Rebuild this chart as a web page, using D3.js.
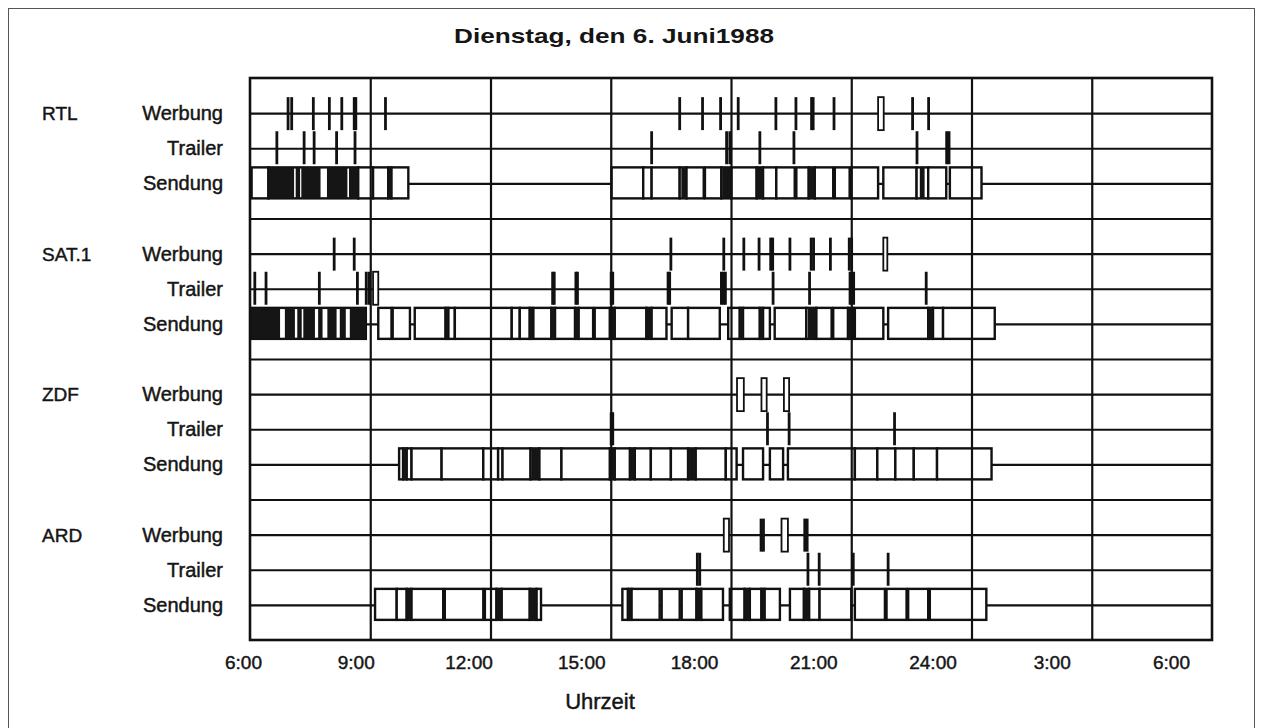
<!DOCTYPE html>
<html>
<head>
<meta charset="utf-8">
<script src="https://cdn.jsdelivr.net/npm/d3@7/dist/d3.min.js"></script>
<style>
    body { margin: 0; background: #fff; }
    text { font-family: Arial, "Liberation Sans", Helvetica, sans-serif; fill: #151515; }
    .lbl { stroke: #151515; stroke-width: 0.45px; }
</style>
</head>
<body>
<script>
    const sender = ["RTL", "SAT.1", "ZDF", "ARD"];
    const zeilen = ["Werbung", "Trailer", "Sendung"];
    const stunden = [6, 9, 12, 15, 18, 21, 24, 27, 30];
    const stundenLabels = ["6:00", "9:00", "12:00", "15:00", "18:00", "21:00", "24:00", "3:00", "6:00"];

    // Werbung / Trailer: eine Zahl = einzelner Spot, [von, bis] = Block (Stunden ab 0:00)
    const rtlWerbung = [6.95, 7.04, 7.58, 7.98, 8.29, 8.60, 8.64, 9.38, 16.72, 17.29, 17.74, 18.18, 19.12, 19.62, 20.01, 20.05, 20.57, [21.67, 21.81], 22.53, 22.93];
    const rtlTrailer = [6.67, 7.35, 7.60, 8.16, 8.62, 16.02, 17.89, 17.97, 18.72, 19.57, 22.64, 23.38, 23.44];
    const rtlSendung = [[6.04, 6.46], [6.46, 8.70], [8.70, 9.07], [9.07, 9.45], [9.45, 9.53], [9.53, 9.95],
        [15.02, 15.81], [15.81, 16.02], [16.02, 16.72], [16.72, 16.89], [16.89, 17.32], [17.35, 17.76], [17.76, 18.01],
        [18.01, 18.64], [18.64, 18.80], [18.80, 19.13], [19.13, 19.59], [19.63, 19.94], [19.94, 20.09], [20.09, 20.55],
        [20.59, 20.96], [21.00, 21.67], [21.80, 22.63], [22.63, 22.92], [22.92, 23.37], [23.46, 24.25]];
    const rtlDicht = [[6.46, 7.10], [7.14, 7.25], [7.28, 7.76], [7.92, 8.43], [8.47, 8.70], [9.45, 9.53], [16.76, 16.89],
        [17.78, 18.01], [18.64, 18.80], [19.96, 20.09], [22.71, 22.83]];

    const sat1Werbung = [8.10, 8.60, 16.50, 17.82, 18.32, 18.70, 18.99, 19.04, 19.47, 20.00, 20.06, 20.48, 20.95, 21.01, [21.80, 21.90]];
    const sat1Trailer = [6.12, 6.40, 7.73, 8.68, 8.90, 8.97, [9.07, 9.20], 13.55, 13.59, 14.13, 14.17, 15.01, 15.05, 16.43, 16.47,
        17.76, 17.81, 17.86, 19.05, 19.96, 20.97, 21.01, 21.06, 22.87];
    const sat1Sendung = [[6.04, 8.89], [9.20, 9.53], [9.56, 9.99], [10.11, 10.88], [10.88, 10.95], [10.95, 11.11], [11.11, 12.53],
        [12.53, 12.73], [12.73, 12.98], [12.98, 13.05], [13.07, 13.52], [13.52, 13.61], [13.61, 14.11], [14.11, 14.20],
        [14.20, 14.56], [14.60, 14.98], [14.98, 15.10], [15.10, 15.89], [15.89, 16.02], [16.02, 16.39], [16.52, 16.93],
        [16.93, 17.72], [17.93, 18.22], [18.22, 18.30], [18.30, 18.72], [18.72, 18.80], [18.80, 18.97], [19.09, 19.88],
        [19.88, 20.13], [20.13, 20.51], [20.55, 20.92], [20.92, 21.05], [21.09, 21.80], [21.92, 22.92], [22.92, 23.04],
        [23.04, 23.29], [23.29, 24.58]];
    const sat1Dicht = [[6.04, 6.75], [6.87, 7.12], [7.18, 7.29], [7.33, 7.62], [7.70, 7.81], [7.93, 8.16], [8.24, 8.39], [8.49, 8.89],
        [10.89, 10.94], [12.98, 13.05], [13.52, 13.61], [14.11, 14.20], [14.98, 15.10], [15.89, 16.02], [18.22, 18.30],
        [18.72, 18.80], [19.92, 20.10], [20.92, 21.05], [22.92, 23.04]];

    const zdfWerbung = [[18.15, 18.32], [18.76, 18.89], [19.32, 19.45]];
    const zdfTrailer = [15.01, 15.05, 18.91, 19.45, 22.08];
    const zdfSendung = [[9.72, 9.82], [9.82, 9.91], [9.91, 10.03], [10.03, 10.78], [10.78, 11.82], [11.82, 12.19], [12.19, 12.30],
        [12.30, 13.00], [13.00, 13.22], [13.22, 13.77], [13.77, 14.98], [14.98, 15.10], [15.10, 15.48], [15.48, 15.60],
        [15.60, 16.00], [16.00, 16.50], [16.50, 16.93], [16.93, 17.12], [17.12, 17.87], [17.87, 18.14], [18.30, 18.80],
        [18.97, 19.30], [19.42, 21.09], [21.09, 21.65], [21.65, 22.10], [22.10, 22.56], [22.56, 23.14], [23.14, 24.50]];
    const zdfDicht = [[9.82, 9.91], [13.02, 13.19], [15.02, 15.10], [15.48, 15.60], [16.93, 17.10]];

    const ardWerbung = [[17.82, 17.95], 18.75, 18.81, [19.26, 19.42], 19.84, 19.90];
    const ardTrailer = [17.16, 17.22, 19.92, 20.20, 21.05, 21.92];
    const ardSendung = [[9.12, 9.66], [9.66, 9.91], [9.91, 10.03], [10.03, 10.82], [10.86, 11.82], [11.86, 12.15], [12.15, 12.28],
        [12.28, 12.98], [12.98, 13.15], [13.15, 13.26], [15.29, 15.43], [15.43, 15.52], [15.52, 16.22], [16.27, 16.72],
        [16.77, 17.14], [17.14, 17.26], [17.26, 17.80], [17.97, 18.34], [18.34, 18.47], [18.47, 18.76], [18.76, 18.84],
        [18.84, 19.22], [19.47, 19.82], [19.82, 19.95], [19.95, 20.21], [20.21, 21.00], [21.09, 21.84], [21.88, 22.38],
        [22.42, 22.92], [22.96, 24.37]];
    const ardDicht = [[9.91, 10.03], [12.15, 12.28], [12.98, 13.15], [15.43, 15.52], [17.14, 17.26], [18.34, 18.47],
        [18.76, 18.84], [19.82, 19.95]];

    const kanaele = [
        { werbung: rtlWerbung, trailer: rtlTrailer, sendung: rtlSendung, dicht: rtlDicht },
        { werbung: sat1Werbung, trailer: sat1Trailer, sendung: sat1Sendung, dicht: sat1Dicht },
        { werbung: zdfWerbung, trailer: zdfTrailer, sendung: zdfSendung, dicht: zdfDicht },
        { werbung: ardWerbung, trailer: ardTrailer, sendung: ardSendung, dicht: ardDicht }
    ];

    const svg = d3.select("body").append("svg")
        .attr("width", 1264)
        .attr("height", 728);

    const x = d3.scaleLinear().domain([6, 30]).range([250, 1212]);
    const y = d3.scaleLinear().domain([0, 16]).range([78, 640]);
    // labels under the axis sit a bit off the grid in the original
    const xLabel = d3.scaleLinear().domain([6, 18, 30]).range([243, 694, 1171]);

    function rowY(k, r) {
        return y(k * 4 + r + 1);
    }

    // frame + title
    svg.append("rect")
        .attr("x", 8.5).attr("y", 8.5)
        .attr("width", 1246).attr("height", 730)
        .attr("fill", "white")
        .attr("stroke", "#555")
        .attr("stroke-width", 1);

    svg.append("text")
        .attr("x", 454)
        .attr("y", 43)
        .attr("font-size", 21)
        .attr("font-weight", "bold")
        .attr("textLength", 320)
        .attr("lengthAdjust", "spacingAndGlyphs")
        .text("Dienstag, den 6. Juni1988");

    // horizontal lines
    svg.append("g")
        .attr("transform", "translate(250,0)")
        .call(d3.axisLeft(y).tickValues(d3.range(1, 16)).tickSize(-962).tickFormat(""))
        .call(g => g.select(".domain").remove())
        .call(g => g.selectAll("line").attr("stroke", "#111").attr("stroke-width", 2.2));

    // marks
    kanaele.forEach((kanal, k) => {
        drawMarks(kanal.werbung, rowY(k, 0), -16, 17);
        drawMarks(kanal.trailer, rowY(k, 1), -17, 16);
        drawSendung(kanal.sendung, kanal.dicht, rowY(k, 2));
    });

    function drawMarks(list, cy, top, bottom) {
        let spots = list.filter(d => typeof d === "number");
        let blocks = list.filter(d => typeof d !== "number");

        svg.append("g").selectAll("line")
            .data(spots).enter().append("line")
            .attr("x1", d => x(d)).attr("x2", d => x(d))
            .attr("y1", cy + top).attr("y2", cy + bottom)
            .attr("stroke", "#111")
            .attr("stroke-width", 2.8);

        svg.append("g").selectAll("rect")
            .data(blocks).enter().append("rect")
            .attr("x", d => x(d[0]))
            .attr("width", d => x(d[1]) - x(d[0]))
            .attr("y", cy + top)
            .attr("height", bottom - top)
            .attr("fill", "white")
            .attr("stroke", "#111")
            .attr("stroke-width", 1.8);
    }

    function drawSendung(list, dicht, cy) {
        svg.append("g").selectAll("rect")
            .data(list).enter().append("rect")
            .attr("x", d => x(d[0]))
            .attr("width", d => x(d[1]) - x(d[0]))
            .attr("y", cy - 16)
            .attr("height", 31)
            .attr("fill", "white")
            .attr("stroke", "#111")
            .attr("stroke-width", 2.4);

        svg.append("g").selectAll("rect")
            .data(dicht).enter().append("rect")
            .attr("x", d => x(d[0]))
            .attr("width", d => x(d[1]) - x(d[0]))
            .attr("y", cy - 16)
            .attr("height", 31)
            .attr("fill", "#151515");
    }

    // vertical grid on top
    svg.append("g")
        .attr("transform", "translate(0,640)")
        .call(d3.axisBottom(x).tickValues(stunden.slice(1, -1)).tickSize(-562).tickFormat(""))
        .call(g => g.select(".domain").remove())
        .call(g => g.selectAll("line").attr("stroke", "#111").attr("stroke-width", 2.2));

    svg.append("rect")
        .attr("x", 250).attr("y", 78)
        .attr("width", 962).attr("height", 562)
        .attr("fill", "none")
        .attr("stroke", "#111")
        .attr("stroke-width", 2.6);

    // axis labels
    svg.append("g")
        .attr("transform", "translate(0,652)")
        .call(d3.axisBottom(xLabel).tickValues(stunden).tickSize(0)
            .tickFormat((d, i) => stundenLabels[i]))
        .call(g => g.select(".domain").remove())
        .call(g => g.selectAll("text")
            .attr("class", "lbl")
            .attr("font-size", 19)
            .attr("font-family", "Arial, 'Liberation Sans', sans-serif")
            .attr("fill", "#151515"));

    svg.append("text")
        .attr("class", "lbl")
        .attr("x", 600)
        .attr("y", 709)
        .attr("font-size", 22)
        .style("text-anchor", "middle")
        .text("Uhrzeit");

    // row labels
    sender.forEach((name, k) => {
        svg.append("text")
            .attr("class", "lbl")
            .attr("x", 42)
            .attr("y", rowY(k, 0) + 7)
            .attr("font-size", 19)
            .text(name);

        zeilen.forEach((z, r) => {
            svg.append("text")
                .attr("class", "lbl")
                .attr("x", 223)
                .attr("y", rowY(k, r) + 7)
                .attr("font-size", 20)
                .style("text-anchor", "end")
                .text(z);
        });
    });
</script>
</body>
</html>
